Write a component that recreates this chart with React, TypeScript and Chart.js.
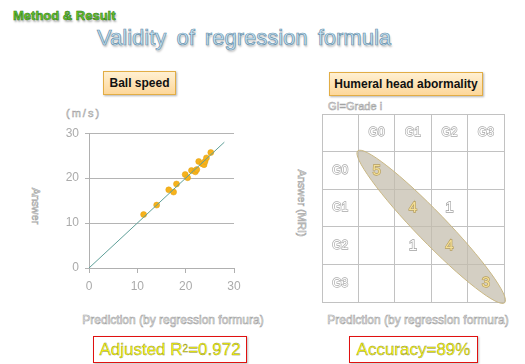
import React, { useEffect, useRef } from "react";
import { Chart, registerables } from "chart.js";

Chart.register(...registerables);

// ---- Ball speed scatter data (m/s) ----
const predictedSpeed = [11.3, 14.0, 16.5, 17.5, 18.1, 19.9, 20.4, 21.2, 21.9, 22.0, 22.3, 22.7, 23.4, 23.8, 24.0, 24.3, 25.2];
const answerSpeed = [11.9, 14.0, 17.4, 16.9, 18.7, 20.8, 20.1, 21.7, 21.6, 21.4, 21.9, 23.7, 23.2, 23.0, 23.7, 24.5, 25.7];
const fitLineX = [0, 28];
const fitLineY = [0, 28];
const speedTicks = [0, 10, 20, 30];

// ---- Humeral head abnormality confusion matrix ----
const grades = ["G0", "G1", "G2", "G3"];
const matrixCounts = [
  [5, 0, 0, 0],
  [0, 4, 1, 0],
  [0, 1, 4, 0],
  [0, 0, 0, 3],
];

const FONT = '"Liberation Sans", Arial, sans-serif';

function ScatterChart() {
  const ref = useRef<HTMLCanvasElement>(null);
  useEffect(() => {
    const pts = predictedSpeed.map((x, i) => ({ x, y: answerSpeed[i] }));
    const line = fitLineX.map((x, i) => ({ x, y: fitLineY[i] }));
    const chart = new Chart(ref.current!, {
      type: "scatter",
      data: {
        datasets: [
          {
            data: line,
            showLine: true,
            borderColor: "#5e9f98",
            borderWidth: 1,
            pointRadius: 0,
            order: 0,
          },
          {
            data: pts,
            backgroundColor: "#f6b21c",
            borderColor: "#e3a010",
            borderWidth: 0.5,
            pointRadius: 3,
            order: 1,
          },
        ],
      },
      options: {
        animation: false,
        responsive: false,
        maintainAspectRatio: false,
        layout: { padding: { top: 8, right: 16, left: 0, bottom: 0 } },
        plugins: { legend: { display: false }, tooltip: { enabled: false } },
        scales: {
          x: {
            type: "linear",
            min: speedTicks[0],
            max: speedTicks[speedTicks.length - 1],
            afterBuildTicks: (s: any) => { s.ticks = speedTicks.map((v) => ({ value: v })); },
            ticks: { color: "#ababab", font: { family: FONT, size: 12 }, padding: 6 },
            grid: { drawOnChartArea: false, drawTicks: true, tickLength: 5, color: "#b0b0b0" },
            border: { color: "#b0b0b0" },
            afterFit: (s: any) => { s.height = 32; },
          },
          y: {
            type: "linear",
            min: speedTicks[0],
            max: speedTicks[speedTicks.length - 1],
            afterBuildTicks: (s: any) => { s.ticks = speedTicks.map((v) => ({ value: v })); },
            ticks: { color: "#ababab", font: { family: FONT, size: 12 }, padding: 6 },
            grid: { color: "#b4b4b4", tickLength: 4 },
            border: { color: "#b0b0b0" },
            afterFit: (s: any) => { s.width = 49; },
          },
        },
      },
    });
    return () => chart.destroy();
  }, []);
  return (
    <canvas
      ref={ref}
      width={210}
      height={180}
      style={{ position: "absolute", left: 40, top: 120, width: 210, height: 180 }}
    />
  );
}

function MatrixChart() {
  const ref = useRef<HTMLCanvasElement>(null);
  useEffect(() => {
    const cells: { x: number; y: number; v: number }[] = [];
    matrixCounts.forEach((row, r) =>
      row.forEach((v, c) => { if (v) cells.push({ x: c + 1.5, y: r + 1.5, v }); })
    );
    const labelPlugin = {
      id: "matrixLabels",
      afterDatasetsDraw(chart: any) {
        const { ctx } = chart;
        const xs = chart.scales.x;
        const ys = chart.scales.y;
        ctx.save();
        // ellipse along diagonal
        const cx = xs.getPixelForValue(3);
        const cy = ys.getPixelForValue(3);
        const ex = xs.getPixelForValue(1);
        const ey = ys.getPixelForValue(1);
        const ang = Math.atan2(cy - ey, cx - ex);
        const a = Math.hypot(cx - ex, cy - ey) + 1;
        ctx.beginPath();
        ctx.ellipse(cx, cy, a, 15, ang, 0, Math.PI * 2);
        ctx.fillStyle = "rgba(196,189,172,0.72)";
        ctx.fill();
        ctx.strokeStyle = "#c9b783";
        ctx.lineWidth = 1;
        ctx.stroke();

        const hollow = (t: string, x: number, y: number, size: number, fill: string, stroke: string) => {
          ctx.font = `${size}px ${FONT}`;
          ctx.textAlign = "center";
          ctx.textBaseline = "middle";
          ctx.lineWidth = 1.3;
          ctx.strokeStyle = stroke;
          ctx.strokeText(t, x, y);
          ctx.fillStyle = fill;
          ctx.fillText(t, x, y);
        };
        grades.forEach((g, i) => {
          hollow(g, xs.getPixelForValue(i + 1.5), ys.getPixelForValue(0.5), 12, "#ffffff", "#a8a8a8");
          hollow(g, xs.getPixelForValue(0.5), ys.getPixelForValue(i + 1.5), 12, "#ffffff", "#a8a8a8");
        });
        const meta = chart.getDatasetMeta(0);
        meta.data.forEach((pt: any, i: number) => {
          const d = cells[i];
          const diag = d.x === d.y;
          hollow(String(d.v), pt.x, pt.y, 15, diag ? "#f4df95" : "#ffffff", diag ? "#b79f5e" : "#a0a0a0");
        });
        ctx.restore();
      },
    };
    const chart = new Chart(ref.current!, {
      type: "scatter",
      data: { datasets: [{ data: cells.map((c) => ({ x: c.x, y: c.y })), pointRadius: 0 }] },
      options: {
        animation: false,
        responsive: false,
        maintainAspectRatio: false,
        layout: { padding: 4 },
        plugins: { legend: { display: false }, tooltip: { enabled: false } },
        scales: {
          x: {
            type: "linear", min: 0, max: 5,
            afterBuildTicks: (s: any) => { s.ticks = [0, 1, 2, 3, 4, 5].map((v) => ({ value: v })); },
            ticks: { display: false },
            grid: { color: "#c2c2c2", drawTicks: false },
            border: { color: "#c2c2c2" },
            afterFit: (s: any) => { s.height = 0; },
          },
          y: {
            type: "linear", min: 0, max: 5, reverse: true,
            afterBuildTicks: (s: any) => { s.ticks = [0, 1, 2, 3, 4, 5].map((v) => ({ value: v })); },
            ticks: { display: false },
            grid: { color: "#c2c2c2", drawTicks: false },
            border: { color: "#c2c2c2" },
            afterFit: (s: any) => { s.width = 0; },
          },
        },
      },
      plugins: [labelPlugin],
    });
    return () => chart.destroy();
  }, []);
  return (
    <canvas
      ref={ref}
      width={190}
      height={196}
      style={{ position: "absolute", left: 318, top: 110, width: 190, height: 196 }}
    />
  );
}

const hollowText: React.CSSProperties = {
  position: "absolute",
  fontFamily: FONT,
  color: "#ffffff",
  WebkitTextStroke: "0.6px #a4a4a4",
  whiteSpace: "nowrap",
};

const labelBox: React.CSSProperties = {
  position: "absolute",
  boxSizing: "border-box",
  background: "linear-gradient(#fff0d2, #fdd79a)",
  border: "1.5px solid #e2ad45",
  boxShadow: "1px 1px 2px rgba(0,0,0,0.3)",
  fontFamily: FONT,
  fontWeight: "bold",
  fontSize: 12,
  color: "#111",
  display: "flex",
  alignItems: "center",
  justifyContent: "center",
};

const resultBox: React.CSSProperties = {
  position: "absolute",
  boxSizing: "border-box",
  border: "1.5px solid #e01010",
  boxShadow: "1px 1px 2px rgba(0,0,0,0.25)",
  background: "#fff",
  fontFamily: FONT,
  fontSize: 17,
  color: "#ffff00",
  WebkitTextStroke: "0.4px #8a8a40",
  display: "flex",
  alignItems: "center",
  justifyContent: "center",
  whiteSpace: "nowrap",
};

export default function App() {
  return (
    <div style={{ position: "fixed", left: 0, top: 0, width: 525, height: 364, background: "#fff", overflow: "hidden" }}>
      <div
        style={{
          position: "absolute", left: 13, top: 8, fontFamily: FONT, fontWeight: "bold", fontSize: 13,
          color: "#62c82a", WebkitTextStroke: "0.5px #2e7414", textShadow: "1px 2px 2px rgba(0,0,0,0.35)",
          whiteSpace: "nowrap",
        }}
      >
        Method &amp; Result
      </div>
      <div
        style={{
          position: "absolute", left: 97, top: 25, fontFamily: FONT, fontSize: 22,
          color: "#c6e7f8", WebkitTextStroke: "0.7px #6a90aa", textShadow: "1px 2px 2px rgba(0,0,0,0.25)",
          whiteSpace: "nowrap", wordSpacing: 4,
        }}
      >
        Validity of regression formula
      </div>

      <div style={{ ...labelBox, left: 103, top: 71, width: 73, height: 24 }}>Ball speed</div>
      <div style={{ ...labelBox, left: 329, top: 72, width: 154, height: 24 }}>Humeral head abormality</div>

      <div style={{ ...hollowText, left: 66, top: 107, fontSize: 11, letterSpacing: 2 }}>(m/s)</div>
      <div style={{ ...hollowText, left: 328, top: 100, fontSize: 11 }}>GI=Grade i</div>

      <div style={{ ...hollowText, left: 36, top: 206, fontSize: 11, transform: "translate(-50%,-50%) rotate(90deg)" }}>Answer</div>
      <div style={{ ...hollowText, left: 302, top: 203, fontSize: 11, transform: "translate(-50%,-50%) rotate(90deg)" }}>Answer (MRI)</div>

      <ScatterChart />
      <MatrixChart />

      <div style={{ ...hollowText, left: 173, top: 320, fontSize: 12, transform: "translate(-50%,-50%)" }}>
        Prediction (by regression formura)
      </div>
      <div style={{ ...hollowText, left: 418, top: 320, fontSize: 12, transform: "translate(-50%,-50%)" }}>
        Prediction (by regression formura)
      </div>

      <div style={{ ...resultBox, left: 93, top: 336, width: 154, height: 27 }}>
        Adjusted R<sup style={{ fontSize: 10, lineHeight: 0, position: "relative", top: -1 }}>2</sup>=0.972
      </div>
      <div style={{ ...resultBox, left: 349, top: 336, width: 129, height: 27 }}>Accuracy=89%</div>
    </div>
  );
}
